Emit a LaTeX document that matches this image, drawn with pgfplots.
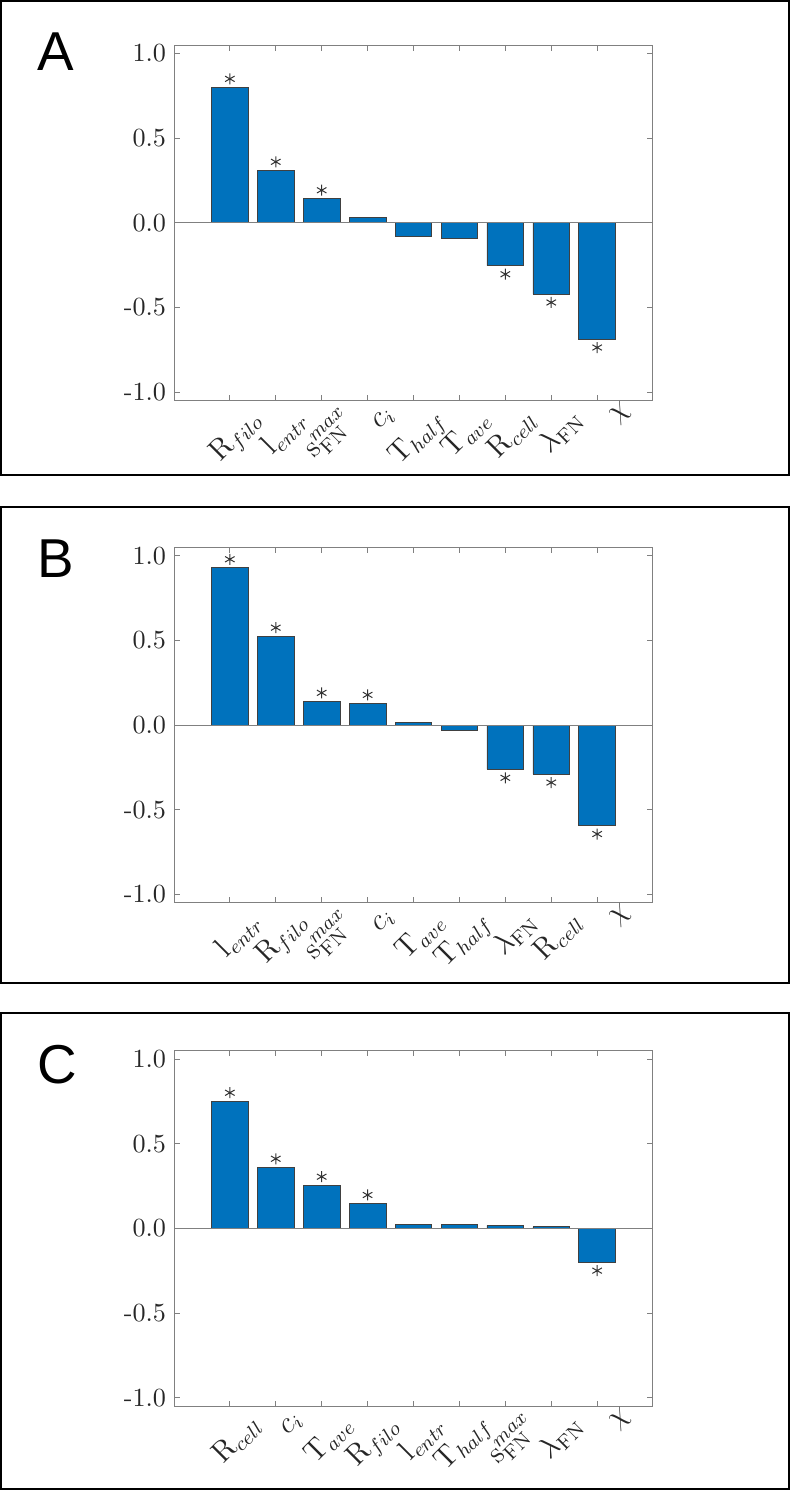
\documentclass[border=0pt]{standalone}
\usepackage{fontspec}
\usepackage{pgfplots}
\pgfplotsset{compat=1.18}
\newfontfamily\letterfont{Liberation Sans}
\definecolor{matblue}{HTML}{0072BD}
\newcommand{\Rfilo}{$\mathrm{R}_{filo}$}
\newcommand{\lentr}{$\mathrm{l}_{entr}$}
\newcommand{\sFN}{$\mathrm{s}^{max}_{\mathrm{FN}}$}
\newcommand{\ci}{$c_i$}
\newcommand{\Thalf}{$\mathrm{T}_{half}$}
\newcommand{\Tave}{$\mathrm{T}_{ave}$}
\newcommand{\Rcell}{$\mathrm{R}_{cell}$}
\newcommand{\lFN}{$\lambda_{\mathrm{FN}}$}
\newcommand{\chiL}{$\chi$\kern-3bp}
\pgfplotsset{
  panel/.style={
    anchor=north west, scale only axis,
    width=191bp, height=142.2bp,
    xmin=-0.2, xmax=10.2, ymin=-1.05, ymax=1.05,
    xtick={1,...,9},
    ytick={-1,-0.5,0,0.5,1},
    yticklabels={-1.0,-0.5,0.0,0.5,1.0},
    tick align=inside,
    major tick length=2.2bp,
    axis line style={gray, line width=0.4bp},
    tick style={gray, line width=0.4bp},
    ticklabel style={black!85},
    yticklabel style={font=\fontsize{10.5}{12}\selectfont},
    xticklabel style={font=\fontsize{12}{13}\selectfont, rotate=45, anchor=north east, xshift=7bp, yshift=-3bp},
  },
  bars/.style={ybar, bar width=0.8, fill=matblue, draw=black!75, line width=0.3bp},
  stars/.style={only marks, mark=asterisk, mark size=2.2bp, mark options={line width=0.4bp}, black!80},
  zeroline/.style={gray, line width=0.4bp, forget plot},
}
\begin{document}
\begin{tikzpicture}
\useasboundingbox (0,0) rectangle (316.4bp,-596bp);
% outer frames
\draw[line width=0.8bp] (0.4bp,-0.4bp) rectangle (315.6bp,-190bp);
\draw[line width=0.8bp] (0.4bp,-202.8bp) rectangle (315.6bp,-393.2bp);
\draw[line width=0.8bp] (0.4bp,-405.2bp) rectangle (315.6bp,-595.6bp);
% panel letters
\node[anchor=base west, inner sep=0, font=\letterfont\fontsize{22}{22}\selectfont] at (14.8bp,-28bp) {A};
\node[anchor=base west, inner sep=0, font=\letterfont\fontsize{22}{22}\selectfont] at (14.8bp,-230.8bp) {B};
\node[anchor=base west, inner sep=0, font=\letterfont\fontsize{22}{22}\selectfont] at (14.8bp,-433.2bp) {C};

% Panel A
\begin{axis}[panel, at={(69.9bp,-18bp)},
  xticklabels={\Rfilo,\lentr,\sFN,\ci,\Thalf,\Tave,\Rcell,\lFN,\chiL}]
\addplot[bars] coordinates {(1,0.80) (2,0.31) (3,0.142) (4,0.03) (5,-0.079) (6,-0.09) (7,-0.254) (8,-0.421) (9,-0.687)};
\addplot[zeroline] coordinates {(-0.2,0) (10.2,0)};
\addplot[stars] coordinates {(1,0.85) (2,0.36) (3,0.192) (7,-0.304) (8,-0.471) (9,-0.737)};
\end{axis}

% Panel B
\begin{axis}[panel, at={(69.9bp,-218.9bp)},
  xticklabels={\lentr,\Rfilo,\sFN,\ci,\Tave,\Thalf,\lFN,\Rcell,\chiL}]
\addplot[bars] coordinates {(1,0.929) (2,0.525) (3,0.140) (4,0.128) (5,0.014) (6,-0.032) (7,-0.262) (8,-0.29) (9,-0.594)};
\addplot[zeroline] coordinates {(-0.2,0) (10.2,0)};
\addplot[stars] coordinates {(1,0.979) (2,0.575) (3,0.19) (4,0.178) (7,-0.312) (8,-0.34) (9,-0.644)};
\end{axis}

% Panel C
\begin{axis}[panel, at={(69.9bp,-420.3bp)},
  xticklabels={\Rcell,\ci,\Tave,\Rfilo,\lentr,\Thalf,\sFN,\lFN,\chiL}]
\addplot[bars] coordinates {(1,0.752) (2,0.362) (3,0.256) (4,0.148) (5,0.026) (6,0.026) (7,0.018) (8,0.01) (9,-0.199)};
\addplot[zeroline] coordinates {(-0.2,0) (10.2,0)};
\addplot[stars] coordinates {(1,0.802) (2,0.412) (3,0.306) (4,0.198) (9,-0.249)};
\end{axis}
\end{tikzpicture}
\end{document}
